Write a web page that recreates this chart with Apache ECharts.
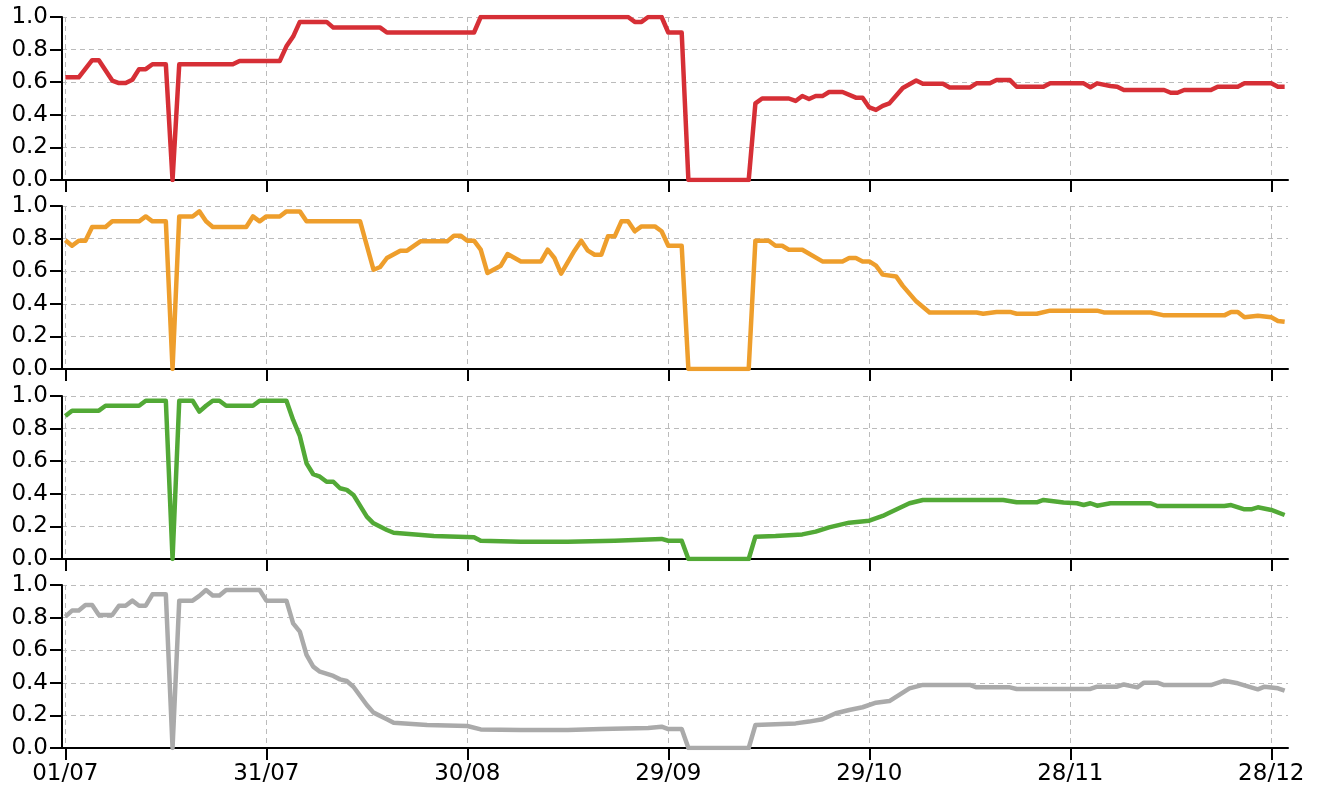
<!DOCTYPE html>
<html>
<head>
<meta charset="utf-8">
<script src="https://cdn.jsdelivr.net/npm/echarts@6/dist/echarts.min.js"></script>
<style>
  html, body { margin: 0; padding: 0; background: #fff; }
  #main { width: 1324px; height: 794px; }
</style>
</head>
<body>
<div id="main"></div>
<script>
// x = days since 01/07, y = value
var tickDays = [0, 30, 60, 90, 120, 150, 180];
var yTicks = [0, 0.2, 0.4, 0.6, 0.8, 1.0];

var redPoints = [
  [0,0.63],[2,0.63],[4,0.735],[5,0.735],[7,0.61],[8,0.595],[9,0.595],[10,0.615],[11,0.68],[12,0.68],
  [13,0.71],[15,0.71],[16,0],[17,0.71],[25,0.71],[26,0.73],[32,0.73],[33,0.82],[34,0.88],[35,0.97],
  [39,0.97],[40,0.935],[47,0.935],[48,0.905],[61,0.905],[62,1.0],[84,1.0],[85,0.97],[86,0.97],[87,1.0],
  [89,1.0],[90,0.905],[92,0.905],[93,0],[102,0],[103,0.47],[104,0.5],[108,0.5],[109,0.485],[110,0.515],
  [111,0.497],[112,0.515],[113,0.515],[114,0.54],[116,0.54],[118,0.505],[119,0.505],[120,0.445],[121,0.43],
  [122,0.455],[123,0.47],[125,0.565],[127,0.61],[128,0.59],[131,0.59],[132,0.567],[135,0.567],[136,0.593],
  [138,0.593],[139,0.613],[141,0.613],[142,0.572],[146,0.572],[147,0.593],[152,0.593],[153,0.569],[154,0.593],
  [156,0.577],[157,0.572],[158,0.552],[164,0.552],[165,0.535],[166,0.535],[167,0.552],[171,0.552],[172,0.572],
  [175,0.572],[176,0.593],[180,0.593],[181,0.572],[182,0.572]
];
var orangePoints = [
  [0,0.79],[1,0.756],[2,0.787],[3,0.787],[4,0.871],[6,0.871],[7,0.906],[11,0.906],[12,0.936],[13,0.906],
  [15,0.906],[16,0],[17,0.936],[19,0.936],[20,0.967],[21,0.906],[22,0.871],[27,0.871],[28,0.936],[29,0.906],
  [30,0.936],[32,0.936],[33,0.967],[35,0.967],[36,0.906],[44,0.906],[46,0.609],[47,0.626],[48,0.681],[50,0.726],
  [51,0.726],[53,0.783],[57,0.783],[58,0.818],[59,0.818],[60,0.787],[61,0.787],[62,0.732],[63,0.589],[65,0.634],
  [66,0.705],[68,0.66],[71,0.66],[72,0.732],[73,0.681],[74,0.585],[76,0.726],[77,0.787],[78,0.726],[79,0.701],
  [80,0.701],[81,0.814],[82,0.814],[83,0.906],[84,0.906],[85,0.845],[86,0.875],[88,0.875],[89,0.845],[90,0.756],
  [92,0.756],[93,0],[102,0],[103,0.787],[105,0.787],[106,0.756],[107,0.756],[108,0.732],[110,0.732],[113,0.66],
  [116,0.66],[117,0.681],[118,0.681],[119,0.66],[120,0.66],[121,0.634],[122,0.579],[124,0.568],[125,0.51],
  [127,0.415],[129,0.347],[136,0.347],[137,0.339],[139,0.35],[141,0.35],[142,0.339],[145,0.339],[147,0.358],
  [154,0.358],[155,0.347],[162,0.347],[164,0.329],[173,0.329],[174,0.35],[175,0.35],[176,0.317],[178,0.327],
  [180,0.317],[181,0.295],[182,0.29]
];
var greenPoints = [
  [0,0.877],[1,0.91],[5,0.91],[6,0.94],[11,0.94],[12,0.971],[15,0.971],[16,0],[17,0.971],[19,0.971],
  [20,0.904],[21,0.94],[22,0.971],[23,0.971],[24,0.94],[28,0.94],[29,0.971],[33,0.971],[34,0.853],[35,0.755],
  [36,0.587],[37,0.52],[38,0.505],[39,0.474],[40,0.474],[41,0.434],[42,0.424],[43,0.393],[45,0.26],[46,0.219],
  [48,0.178],[49,0.161],[55,0.141],[61,0.133],[62,0.112],[68,0.106],[75,0.106],[82,0.112],[89,0.123],[90,0.112],
  [92,0.112],[93,0],[102,0],[103,0.137],[106,0.141],[110,0.151],[112,0.168],[114,0.194],[117,0.223],[120,0.235],
  [122,0.264],[123,0.284],[126,0.342],[128,0.362],[140,0.362],[142,0.348],[145,0.348],[146,0.362],[149,0.346],
  [151,0.342],[152,0.331],[153,0.342],[154,0.327],[156,0.342],[162,0.342],[163,0.325],[173,0.325],[174,0.331],
  [176,0.305],[177,0.305],[178,0.317],[180,0.301],[182,0.27]
];
var grayPoints = [
  [0,0.806],[1,0.843],[2,0.843],[3,0.877],[4,0.877],[5,0.816],[7,0.816],[8,0.873],[9,0.873],[10,0.904],
  [11,0.873],[12,0.873],[13,0.943],[15,0.943],[16,0],[17,0.904],[19,0.904],[20,0.933],[21,0.969],[22,0.935],
  [23,0.935],[24,0.969],[29,0.969],[30,0.904],[33,0.904],[34,0.765],[35,0.714],[36,0.571],[37,0.499],[38,0.468],
  [40,0.442],[41,0.421],[42,0.411],[43,0.376],[45,0.264],[46,0.217],[48,0.176],[49,0.155],[54,0.141],[60,0.135],
  [62,0.114],[68,0.11],[75,0.11],[80,0.116],[87,0.123],[89,0.131],[90,0.116],[92,0.116],[93,0],[102,0],
  [103,0.141],[109,0.151],[111,0.162],[113,0.176],[115,0.213],[117,0.233],[119,0.25],[121,0.278],[123,0.288],
  [126,0.366],[128,0.387],[135,0.387],[136,0.372],[141,0.372],[142,0.362],[153,0.362],[154,0.376],[157,0.376],
  [158,0.39],[160,0.372],[161,0.401],[163,0.401],[164,0.386],[171,0.386],[173,0.413],[175,0.397],[178,0.36],
  [179,0.376],[181,0.366],[182,0.352]
];

var seriesData = [redPoints, orangePoints, greenPoints, grayPoints];
var colors = ['#d62f36', '#ee9e2c', '#52a936', '#aaaaaa'];
var panelTops = [17, 206, 396, 585];
var fontFamily = 'DejaVu Sans';

function dayLabel(v) {
  var d = new Date(2019, 6, 1 + Math.round(v));
  var dd = ('0' + d.getDate()).slice(-2);
  var mm = ('0' + (d.getMonth() + 1)).slice(-2);
  return dd + '/' + mm;
}

var chart = echarts.init(document.getElementById('main'), null, { renderer: 'canvas' });

var grids = [], xAxes = [], yAxes = [], series = [];
for (var i = 0; i < 4; i++) {
  grids.push({ left: 62, right: 36, top: panelTops[i], height: 163, containLabel: false });
  xAxes.push({
    type: 'value',
    gridIndex: i,
    min: -0.5,
    max: 182.5,
    axisLine: { onZero: false, lineStyle: { color: '#000', width: 2 } },
    axisTick: { show: true, customValues: tickDays, length: 12, lineStyle: { color: '#000', width: 2 } },
    axisLabel: {
      show: i === 3,
      customValues: tickDays,
      formatter: dayLabel,
      fontSize: 23,
      fontFamily: fontFamily,
      color: '#000',
      margin: 15
    },
    splitLine: { show: true, lineStyle: { type: [5, 4], color: '#bbb', width: 1 } }
  });
  yAxes.push({
    type: 'value',
    gridIndex: i,
    min: 0,
    max: 1,
    interval: 0.2,
    axisLine: { show: true, onZero: false, lineStyle: { color: '#000', width: 2 } },
    axisTick: { show: true, length: 12, lineStyle: { color: '#000', width: 2 } },
    axisLabel: {
      formatter: function (v) { return v.toFixed(1); },
      fontSize: 23,
      fontFamily: fontFamily,
      color: '#000',
      margin: 14
    },
    splitLine: { show: true, lineStyle: { type: [5, 4], color: '#bbb', width: 1 } }
  });
  series.push({
    type: 'line',
    xAxisIndex: i,
    yAxisIndex: i,
    data: seriesData[i],
    showSymbol: false,
    lineStyle: { color: colors[i], width: 4.5, join: 'round' },
    itemStyle: { color: colors[i] }
  });
}

var option = {
  animation: false,
  backgroundColor: '#fff',
  grid: grids,
  xAxis: xAxes,
  yAxis: yAxes,
  series: series
};
chart.setOption(option);
</script>
</body>
</html>
